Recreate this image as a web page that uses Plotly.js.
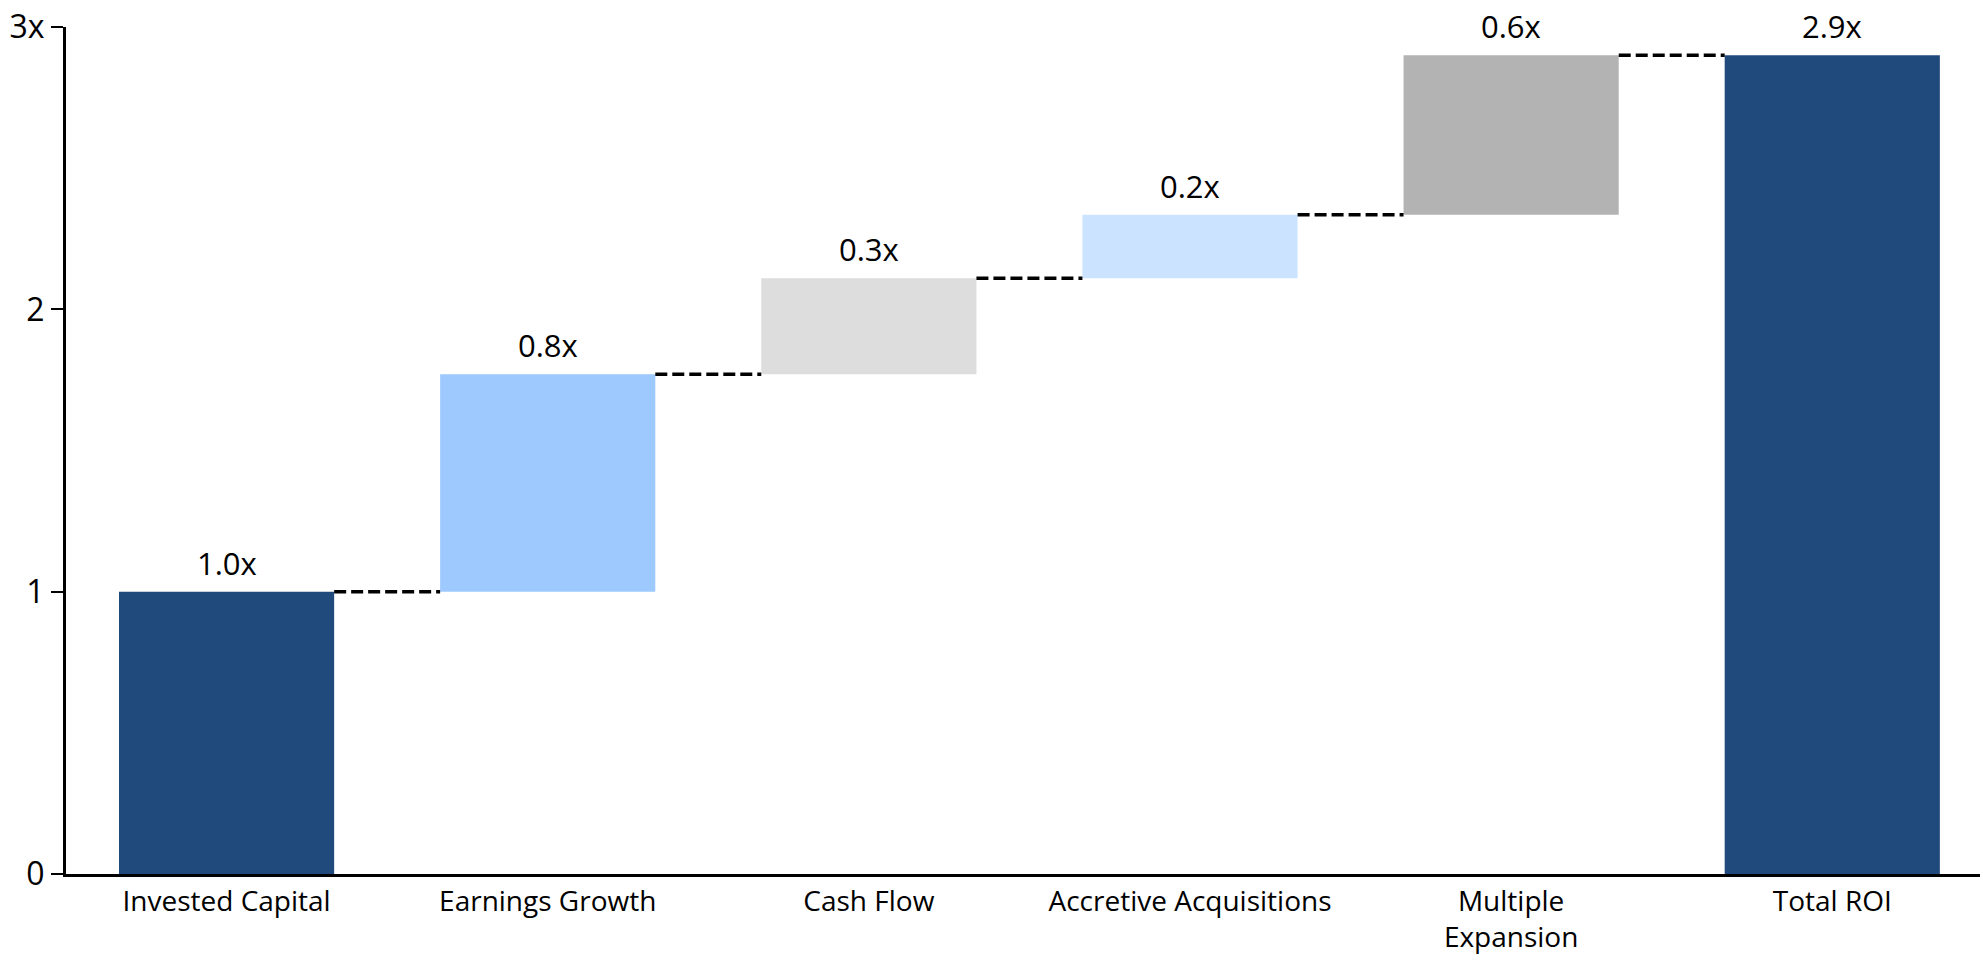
<!DOCTYPE html>
<html>
<head>
<meta charset="utf-8">
<script src="https://cdn.plot.ly/plotly-3.0.1.min.js"></script>
<style>html,body{margin:0;padding:0;background:#fff;}#chart{width:1980px;height:954px;}</style>
</head>
<body>
<div id="chart"></div>
<script>
// Data
var categories = ['Invested Capital', 'Earnings Growth', 'Cash Flow', 'Accretive Acquisitions', 'Multiple<br>Expansion', 'Total ROI'];
var steps = [1.0, 0.77, 0.34, 0.225, 0.565, 2.9];   // step sizes (last = total)
var isTotal = [true, false, false, false, false, true];
var labels = ['1.0x', '0.8x', '0.3x', '0.2x', '0.6x', '2.9x'];
var colors = ['#204A7B', '#9DC9FF', '#DDDDDD', '#CCE3FF', '#B3B3B3', '#204A7B'];
var yTickVals = [0, 1, 2, 3];
var yTickText = ['0', '1', '2', '3x'];

// Bases and tops computed from the data
var bases = [], heights = [], tops = [];
var running = 0;
for (var i = 0; i < steps.length; i++) {
  if (isTotal[i]) { bases.push(0); heights.push(steps[i]); running = steps[i]; }
  else { bases.push(running); heights.push(steps[i]); running += steps[i]; }
  tops.push(bases[i] + heights[i]);
}

var barWidth = 0.67;
var xIdx = categories.map(function (_, i) { return i; });
var FONT = '"Open Sans", Lato, sans-serif';

var trace = {
  type: 'bar',
  x: xIdx,
  y: heights,
  base: bases,
  width: barWidth,
  marker: { color: colors, line: { width: 0 } },
  hoverinfo: 'skip',
  showlegend: false
};

var shapes = [];
for (var j = 0; j < categories.length - 1; j++) {
  shapes.push({
    type: 'line', xref: 'x', yref: 'y',
    x0: j + barWidth / 2, x1: j + 1 - barWidth / 2,
    y0: tops[j], y1: tops[j],
    line: { color: '#000', width: 3.5, dash: '12px,5px' }
  });
}

var annotations = labels.map(function (t, i) {
  return {
    x: i, y: tops[i], xref: 'x', yref: 'y',
    text: t, showarrow: false, yanchor: 'bottom', yshift: 6,
    font: { family: FONT, size: 31, color: '#000' }
  };
});

var layout = {
  width: 1980, height: 954,
  margin: { l: 66, r: 0, t: 27, b: 80 },
  paper_bgcolor: '#fff', plot_bgcolor: '#fff',
  font: { family: FONT, color: '#000' },
  bargap: 0.33,
  xaxis: {
    range: [-0.5, 5.46],
    tickmode: 'array', tickvals: xIdx, ticktext: categories,
    showgrid: false, zeroline: false,
    showline: true, linecolor: '#000', linewidth: 3,
    ticks: '', tickfont: { family: FONT, size: 28, color: '#000' },
    fixedrange: true
  },
  yaxis: {
    range: [0, 3],
    tickmode: 'array', tickvals: yTickVals, ticktext: yTickText,
    showgrid: false, zeroline: false,
    showline: true, linecolor: '#000', linewidth: 3,
    ticks: 'outside', ticklen: 12, tickwidth: 2, tickcolor: '#000',
    tickfont: { family: FONT, size: 32, color: '#000' },
    fixedrange: true
  },
  shapes: shapes,
  annotations: annotations
};

Plotly.newPlot('chart', [trace], layout, { displayModeBar: false, staticPlot: true });
</script>
</body>
</html>
